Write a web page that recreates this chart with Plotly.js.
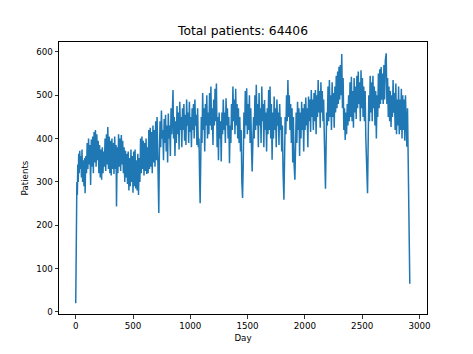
<!DOCTYPE html>
<html>
<head>
<meta charset="utf-8">
<script src="https://cdn.plot.ly/plotly-3.0.1.min.js"></script>
<style>html,body{margin:0;padding:0;background:#fff;}#chart{width:473px;height:354px;}</style>
</head>
<body>
<div id="chart"></div>
<script>
const chartTitle = "Total patients: 64406";
const xLabel = "Day";
const yLabel = "Patients";
const xTicks = [0, 500, 1000, 1500, 2000, 2500, 3000];
const yTicks = [0, 100, 200, 300, 400, 500, 600];

const days = [0,3,6,10,14,18,22,26,30,35,40,45,50,55,60,66,72,78,82,88,94,100,106,112,118,124,130,136,142,148,154,160,166,172,178,184,190,196,202,208,214,220,226,232,238,244,250,256,262,268,274,280,286,292,298,304,310,316,322,328,334,340,346,352,356,362,368,374,380,386,392,398,404,410,416,422,428,434,440,446,452,458,464,470,476,482,488,494,500,506,512,518,524,530,536,542,548,554,560,566,572,578,584,590,596,602,608,614,620,626,632,638,644,650,656,662,668,674,680,686,692,698,704,710,716,720,725,
730,736,742,748,754,760,766,772,778,784,790,796,802,808,814,820,826,832,838,844,849,
854,860,866,872,878,884,890,896,902,908,914,920,926,932,938,944,950,956,962,968,974,980,986,992,998,1004,1010,1016,1022,1028,1034,1040,1046,1052,1058,1064,1070,1076,1082,1086,1090,
1096,1102,1108,1114,1120,1126,1132,1138,1144,1150,1156,1162,1168,1174,1180,1186,1192,1198,1204,1210,1216,1222,1228,1234,1240,1246,1252,1258,1264,1270,1276,1282,1288,1294,1300,1306,1312,1318,1324,1330,1336,1342,1348,1354,1360,1366,1372,1378,1384,1390,1396,1402,1408,1414,1420,1426,1432,1438,1444,1450,1456,
1462,1468,1474,1480,1486,1492,1498,1504,1510,1516,1522,1528,1534,1540,1546,1552,1558,1564,1570,1576,1582,1588,1594,1600,1606,1612,1618,1624,1630,1636,1642,1648,1654,1660,1666,1672,1678,1684,1690,1696,1702,1708,1714,1720,1726,1732,1738,1744,1750,1756,1762,1768,1774,1780,1786,1792,1798,1804,1810,1817,
1822,1828,1834,1840,1846,1852,1858,1864,1870,1876,1882,1888,1894,1900,1906,1913,
1918,1924,1930,1936,1942,1948,1954,1960,1966,1972,1978,1984,1990,1996,2002,2008,2014,2020,2026,2032,2038,2044,2050,2056,2062,2068,2074,2080,2086,2092,2098,2104,2110,2116,2122,2128,2134,2140,2146,2152,2158,2164,2170,2176,2180,
2184,2190,2196,2202,2208,2214,2220,2226,2232,2238,2244,2250,2256,2262,2268,2274,2280,2286,2292,2298,2304,2310,2316,2322,2328,2334,2340,2346,2352,2358,2364,2370,2376,2382,2388,2394,2400,2406,2412,2418,2424,2430,2436,2442,2448,2454,2460,2466,2472,2478,2484,2490,2496,2502,2508,2514,2520,2526,2532,2538,2547,
2552,2558,2564,2570,2576,2582,2588,2594,2600,2606,2612,2618,2624,2630,2636,2642,2648,2654,2660,2666,2672,2678,2684,2690,2696,2702,2710,
2716,2722,2728,2734,2740,2746,2752,2758,2764,2770,2776,2782,2788,2794,2800,2806,2812,2818,2824,2830,2836,2842,2848,2854,2860,2866,2872,2878,2884,2890,2896,2900,2904,2908,2912,2916];

const patients = [20,140,235,300,270,340,300,365,320,372,330,360,310,375,300,350,290,355,274,360,320,390,330,400,340,385,293,398,335,405,320,415,345,420,335,410,350,395,320,385,310,375,305,380,320,370,335,400,325,410,340,427,330,405,320,395,315,400,330,390,318,405,330,385,243,380,320,410,335,400,325,408,340,395,320,380,300,372,310,365,295,370,280,355,290,375,300,360,275,370,290,375,285,350,280,365,270,355,300,400,320,405,330,395,315,390,325,400,318,380,320,420,330,425,335,415,320,430,345,420,335,440,350,450,340,380,228,
360,440,380,465,400,420,350,445,390,455,370,430,345,458,400,430,360,470,410,490,512,
400,450,360,440,390,475,410,460,375,485,420,450,380,470,420,480,395,455,385,490,430,460,390,485,415,450,380,470,420,480,400,490,430,455,385,470,380,400,300,251,330,
450,390,505,420,470,370,480,430,500,400,460,410,505,430,520,420,470,385,490,430,515,440,527,380,450,350,460,400,440,347,460,410,490,420,460,390,493,430,470,400,450,343,430,390,480,420,520,440,490,410,515,430,480,400,470,390,450,370,420,300,263,
340,460,400,510,430,516,410,480,420,500,390,470,380,324,390,450,400,500,420,524,430,480,380,505,430,470,390,520,440,480,380,489,420,460,370,470,410,512,420,520,400,480,351,460,400,497,420,470,380,490,430,460,385,480,420,450,370,430,320,259,
340,450,410,500,440,535,450,500,420,480,390,470,345,450,340,305,
370,460,390,485,420,470,360,460,400,485,420,470,370,480,420,495,430,470,380,497,440,490,415,512,450,490,420,505,440,512,410,500,450,535,460,510,425,530,460,510,440,490,400,330,284,
360,460,430,520,440,535,450,500,420,530,450,505,425,520,460,545,470,555,480,566,490,570,500,595,470,540,420,470,397,460,410,480,430,500,440,530,450,543,440,510,425,540,460,520,445,545,470,555,480,530,440,558,470,540,450,520,440,510,400,350,274,
380,500,440,545,460,530,440,545,470,520,430,510,400,500,450,550,470,560,480,565,490,550,480,570,490,580,597,
480,540,450,520,440,510,427,500,450,535,460,505,420,527,410,490,430,520,410,490,420,515,400,500,420,490,395,500,400,381,470,390,380,200,160,65];

const trace = {
  x: days,
  y: patients,
  type: 'scatter',
  mode: 'lines',
  line: {color: '#1f77b4', width: 1.5},
  hoverinfo: 'skip'
};

const fontFam = 'DejaVu Sans, sans-serif';
const axisCommon = {
  showline: true, mirror: true, linecolor: '#000', linewidth: 1,
  ticks: 'outside', ticklen: 3.5, tickwidth: 0.8, tickcolor: '#000',
  showgrid: false, zeroline: false,
  tickfont: {family: fontFam, size: 8.7, color: '#000'}
};

const layout = {
  width: 473, height: 354,
  margin: {l: 59, r: 46, t: 42, b: 40},
  paper_bgcolor: '#fff', plot_bgcolor: '#fff',
  showlegend: false,
  title: {text: chartTitle, font: {family: fontFam, size: 12.3, color: '#000'},
          x: 0.5, xref: 'paper', y: 1 - 31/354, yref: 'container', yanchor: 'middle'},
  xaxis: Object.assign({}, axisCommon, {
    range: [-146, 3066], tickvals: xTicks, ticktext: xTicks.map(String),
    title: {text: xLabel, font: {family: fontFam, size: 8.7, color: '#000'}, standoff: 4}
  }),
  yaxis: Object.assign({}, axisCommon, {
    range: [-5, 623], tickvals: yTicks, ticktext: yTicks.map(String),
    title: {text: yLabel, font: {family: fontFam, size: 8.7, color: '#000'}, standoff: 6}
  })
};

Plotly.newPlot('chart', [trace], layout, {staticPlot: true, displayModeBar: false});
</script>
</body>
</html>
